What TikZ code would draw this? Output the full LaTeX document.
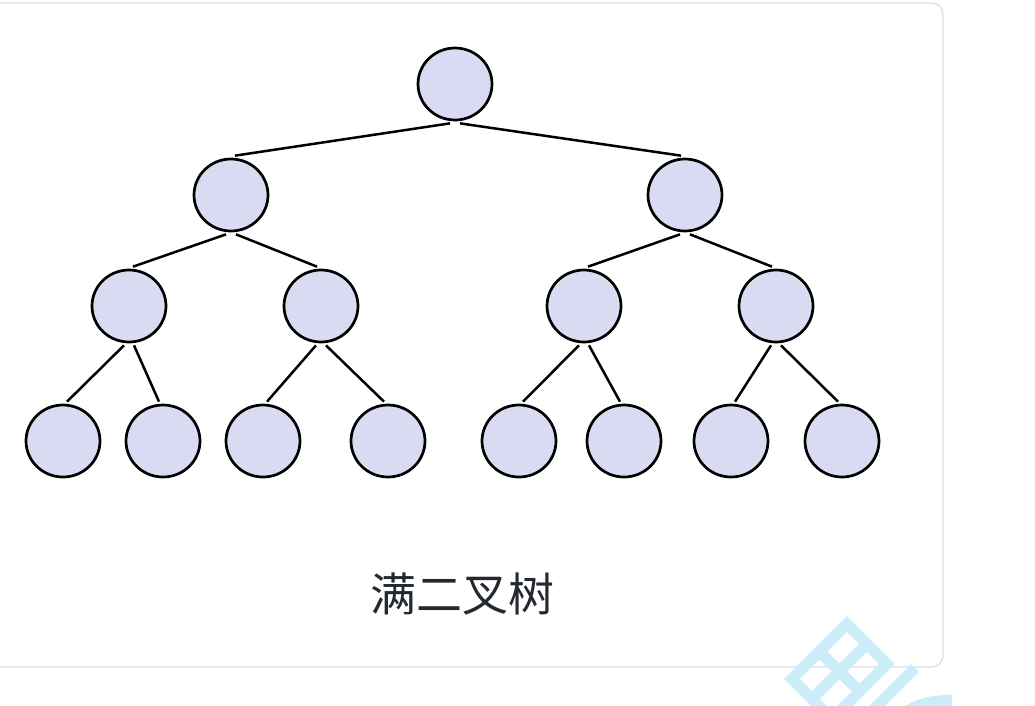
\documentclass[tikz,border=0pt]{standalone}
\usepackage{fontspec}
\newfontfamily\cjk{Noto Sans CJK SC}
\usetikzlibrary{shapes.geometric,calc}
\definecolor{nodefill}{RGB}{216,219,241}
\definecolor{cardgray}{RGB}{222,222,226}
\definecolor{captext}{RGB}{36,41,47}
\definecolor{wmblue}{RGB}{205,236,250}
\tikzset{
  tn/.style={ellipse,draw=black,line width=2.7pt,fill=nodefill,minimum width=74pt,minimum height=72pt,inner sep=0pt},
  edge/.style={draw=black,line width=2.5pt},
  card/.style={draw=cardgray,line width=1.2pt,rounded corners=11pt},
  wm/.style={draw=wmblue,line width=11pt}
}
\begin{document}
\begin{tikzpicture}[x=1pt,y=-1pt]
\useasboundingbox (0,0) rectangle (1035,705);
\fill[white] (0,0) rectangle (1035,705);
\draw[card] (-20,3) rectangle (943,667);
% watermark
\begin{scope}
\clip (0,0) rectangle (1035,705);
\coordinate (wT) at (847,624);
\coordinate (wR) at (887,664);
\coordinate (wL) at (792,679);
\coordinate (wB) at (832,719);
\draw[wm,line join=miter] (wT) -- (wR) -- (wB) -- (wL) -- cycle;
\draw[wm] ($(wT)!0.5!(wR)$) -- ($(wL)!0.5!(wB)$);
\draw[wm] ($(wT)!0.5!(wL)$) -- ($(wR)!0.5!(wB)$);
\draw[wm] (915,668) -- (865,718);
\draw[wm] (905,712) .. controls (925,702) .. (952,700);
\end{scope}
% nodes
\node[tn] (n1) at (455,84) {};
\node[tn] (n2) at (231,195) {};
\node[tn] (n3) at (685,195) {};
\node[tn] (n4) at (129,306) {};
\node[tn] (n5) at (321,306) {};
\node[tn] (n6) at (584,306) {};
\node[tn] (n7) at (776,306) {};
\node[tn] (n8) at (63,441) {};
\node[tn] (n9) at (163,441) {};
\node[tn] (n10) at (263,441) {};
\node[tn] (n11) at (388,441) {};
\node[tn] (n12) at (519,441) {};
\node[tn] (n13) at (624,441) {};
\node[tn] (n14) at (731,441) {};
\node[tn] (n15) at (842,441) {};
% edges
\foreach \p/\l/\r in {n1/n2/n3, n2/n4/n5, n3/n6/n7, n4/n8/n9, n5/n10/n11, n6/n12/n13, n7/n14/n15}{
  \draw[edge] ($(\p.south)+(-5,2)$) -- ($(\l.north)+(4,-2)$);
  \draw[edge] ($(\p.south)+(5,2)$) -- ($(\r.north)+(-4,-2)$);
}
\node[font=\cjk\fontsize{46}{52}\selectfont,text=captext,inner sep=0pt] (cap) at (462,594) {满二叉树};
\end{tikzpicture}
\end{document}
